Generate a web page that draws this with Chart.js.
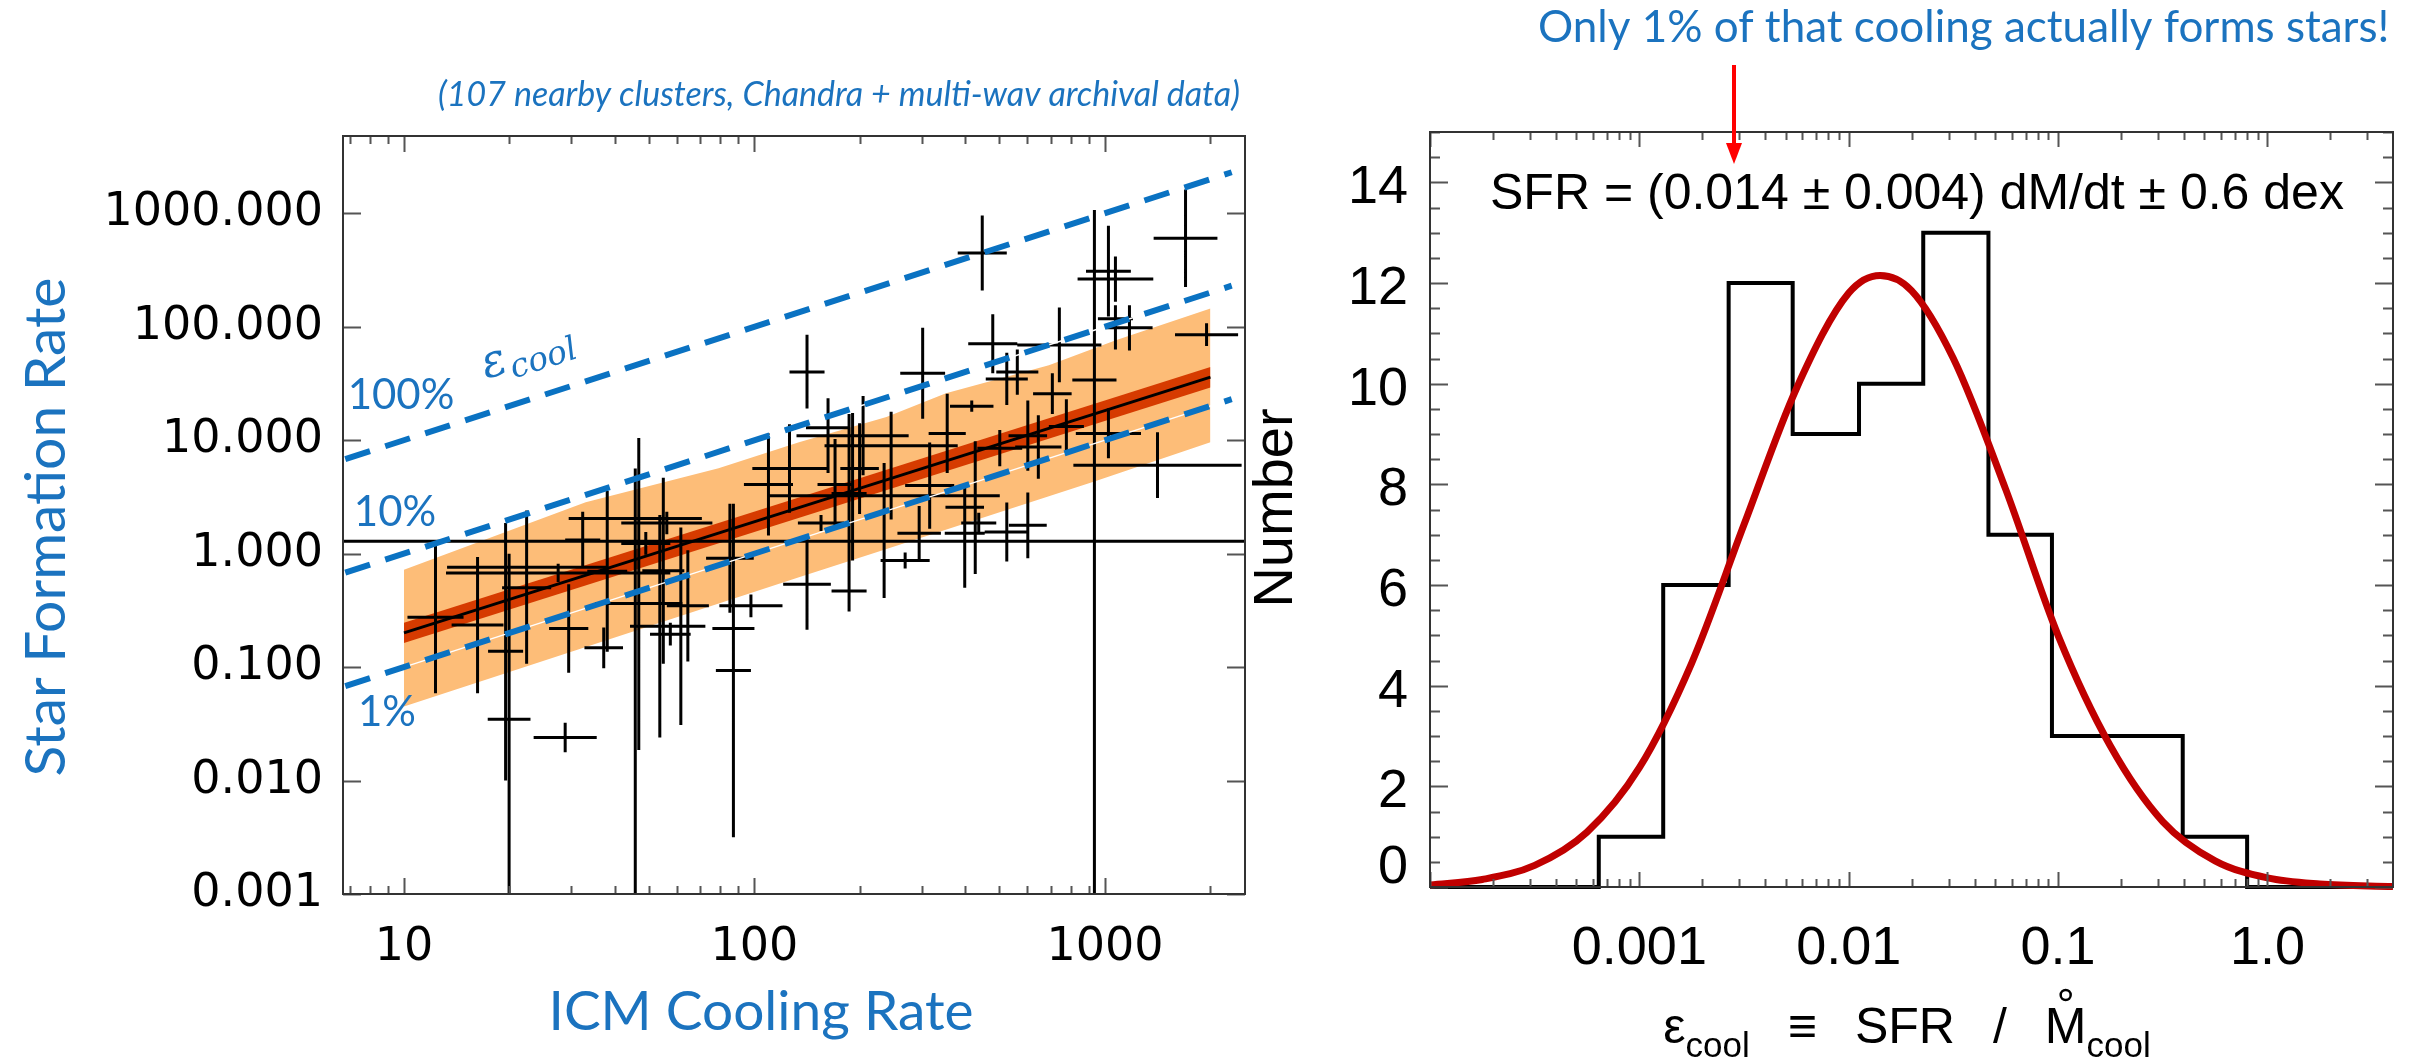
<!DOCTYPE html>
<html>
<head>
<meta charset="utf-8">
<title>ICM cooling vs star formation</title>
<script src="https://cdn.jsdelivr.net/npm/chart.js@4.4.1/dist/chart.umd.min.js"></script>
<style>
  html, body { margin: 0; padding: 0; background: #fff; }
  #page { position: relative; width: 2430px; height: 1060px; overflow: hidden; background: #fff; }
  canvas { position: absolute; top: 0; }
  #sfrChart { left: 0; }
  #histChart { left: 1250px; }
</style>
</head>
<body>
<div id="page">
  <canvas id="sfrChart" width="1250" height="1060"></canvas>
  <canvas id="histChart" width="1180" height="1060"></canvas>
</div>
<script>
// Left: star formation rate vs ICM cooling rate for nearby clusters.
// Right: histogram of eps_cool = SFR / Mdot_cool with its lognormal fit.
// Cluster values are log10 numbers, errors in dex.

const BLUE_TEXT = "#1b73bf"
const BLUE_LINE = "#0a72c2"
const ORANGE = "#fdbd78"
const RED_BAND = "#d63b00"
const FIT_RED = "#c00000"
const SANS = '"Liberation Sans", "DejaVu Sans", Arial, sans-serif'
const GILL = 'Lato, "Open Sans", sans-serif'

// ---- left panel: clusters ----
const logCool = [
  2.15, 2.48, 2.65, 2.68, 2.87, 2.72, 2.75, 2.85, 2.97, 2.97,
  3.01, 3.03, 3.23, 3.03, 3.07, 3.29, 3.15, 3.01, 2.89, 2.78,
  2.81, 2.70, 2.55, 2.62, 2.15, 2.27, 2.47, 2.37, 2.43, 2.60,
  2.63, 2.60, 2.64, 2.72, 2.78, 2.19, 2.27, 2.30, 2.23, 2.21,
  2.31, 2.28, 2.39, 2.50, 1.09, 1.21, 1.30, 1.29, 1.35, 1.35,
  1.44, 1.51, 1.58, 1.47, 1.57, 1.46, 1.66, 1.67, 1.69, 1.75,
  1.73, 1.74, 1.76, 1.79, 1.81, 1.93, 1.94, 1.99, 1.94, 2.04, 2.10
]
const logSfr = [
  1.60, 1.59, 2.65, 1.85, 1.84, 1.54, 1.60, 1.41, 1.53, 0.11,
  2.49, 2.42, 2.78, 2.07, 1.99, 1.93, 0.78, 1.06, 1.12, 1.04,
  0.94, 0.93, 1.06, 1.30, -0.27, -0.33, 0.18, 0.51, -0.06, 0.41,
  0.51, 0.18, 0.27, 0.19, 0.25, 0.27, 0.53, 0.75, 0.61, 1.11,
  1.04, 1.04, 0.95, 0.60, -0.56, -0.63, -1.46, -0.86, -0.30, -0.12,
  -0.17, 0.12, -0.155, -0.66, -0.83, -1.62, 0.31, -0.44, 0.09, 0.27,
  -0.64, -0.15, -0.71, -0.64, -0.46, -0.04, -1.03, -0.46, -0.66, 0.61, 0.75
]
const coolErrDex = [
  0.05, 0.064, 0.07, 0.07, 0.12, 0.06, 0.06, 0.055, 0.063, 3.0,
  0.064, 0.108, 0.091, 0.05, 0.066, 0.09, 0.24, 0.093, 0.05, 0.055,
  0.066, 0.064, 0.053, 0.062, 0.068, 0.05, 0.062, 0.33, 0.07, 0.055,
  0.06, 0.057, 0.05, 0.063, 0.054, 0.066, 0.05, 0.055, 0.05, 0.063,
  0.10, 0.16, 0.19, 0.07, 0.08, 0.074, 0.061, 0.05, 0.07, 0.227,
  0.32, 0.05, 0.057, 0.056, 0.055, 0.09, 0.19, 0.125, 0.07, 0.13,
  0.085, 0.06, 0.058, 0.07, 0.06, 0.068, 0.05, 0.09, 0.06, 0.07, 0.106
]
const sfrErrUpDex = [
  0.33, 0.40, 0.33, 0.26, 0.33, 0.23, 0.20, 0.18, 0.15, 2.92,
  0.40, 0.20, 0.43, 0.12, 0.20, 0.10, 0.29, 0.22, 0.24, 0.31,
  0.28, 0.16, 0.35, 0.05, 0.40, 0.18, 0.24, 0.29, 0.07, 0.21,
  0.48, 0.13, 0.09, 0.26, 0.29, 0.07, 0.70, 0.40, 0.40, 0.26,
  0.35, 0.20, 0.30, 0.38, 0.66, 0.60, 1.46, 1.13, 0.67, 0.50,
  0.08, 0.25, 0.71, 0.39, 0.18, 0.13, 0.44, 1.46, 0.10, 0.10,
  0.98, 0.82, 0.10, 0.87, 0.49, 0.48, 1.47, 0.10, 0.10, 0.45, 0.39
]
const sfrErrDownDex = [
  0.32, 0.40, 0.33, 0.26, 0.33, 0.23, 0.20, 0.18, 0.15, 4.0,
  0.40, 0.20, 0.43, 0.27, 0.20, 0.10, 0.29, 0.22, 0.24, 0.31,
  0.28, 0.16, 0.35, 0.05, 0.40, 0.18, 0.24, 0.90, 0.07, 0.71,
  0.69, 0.13, 0.09, 0.26, 0.29, 0.07, 0.70, 0.40, 0.40, 0.40,
  0.35, 1.10, 0.65, 0.38, 0.67, 0.60, 3.0, 1.14, 0.67, 0.85,
  0.08, 0.25, 0.71, 0.39, 0.18, 0.13, 3.5, 1.29, 0.10, 0.10,
  0.98, 0.82, 0.10, 0.87, 0.49, 0.48, 1.47, 0.10, 0.10, 0.45, 0.39
]

// orange scatter band (+-0.6 dex) and red band around the best fit
const bandTopCool = [10, 33, 79, 134, 238, 352, 692, 1074, 2000]
const bandTopSfr = [0.72, 2.84, 5.66, 9.6, 16.0, 25.9, 45.8, 76, 145]
const bandBottomCool = [10, 134, 223, 942, 2000]
const bandBottomSfr = [0.045, 0.62, 1.03, 4.36, 9.6]
const fitCool = [10, 2000]
const fitSfr = [0.2, 36]
const fitSfrHigh = [0.246, 44.2]
const fitSfrLow = [0.163, 29.2]

// constant cooling-efficiency lines: 100%, 10%, 1%
const effCool = [6.8, 2300]
const effSfr100 = [6.8, 2300]
const effSfr10 = [0.68, 230]
const effSfr1 = [0.068, 23]

const COOL_MIN = 6.7
const COOL_MAX = 2510
const SFR_MIN = 0.001
const SFR_MAX = 4800
const sfrTickValues = [0.001, 0.01, 0.1, 1, 10, 100, 1000]

// ---- right panel: eps_cool histogram ----
const binEdges = [0.00064, 0.0013, 0.00267, 0.0054, 0.0112, 0.0227, 0.0465, 0.0935, 0.191, 0.394, 0.80]
const binCounts = [1, 6, 12, 9, 10, 13, 7, 3, 3, 1]
const fitLogEps = [-4.0, -3.75, -3.5, -3.25, -3.0, -2.75, -2.5, -2.25, -2.0, -1.85,
  -1.7, -1.5, -1.25, -1.0, -0.75, -0.5, -0.25, 0.0, 0.25, 0.6]
const fitNumber = [0.04, 0.15, 0.43, 1.09, 2.37, 4.45, 7.2, 9.9, 11.8, 12.15,
  11.85, 10.5, 7.9, 5.0, 2.8, 1.3, 0.52, 0.18, 0.06, 0.01]
const EPS_MIN = 0.0001
const EPS_MAX = 3.98
const epsLabels = { "-3": "0.001", "-2": "0.01", "-1": "0.1", "0": "1.0" }
const numberTicks = []
for (let v = 0; v <= 15; v += 0.5) numberTicks.push(v)

const pts = (xs, ys) => xs.map((x, i) => ({ x, y: ys[i] }))
const isDecade = v => Math.abs(Math.log10(v) - Math.round(Math.log10(v))) < 1e-6

function logTicks(min, max) {
  const out = []
  for (let e = Math.floor(Math.log10(min)); e <= Math.ceil(Math.log10(max)); e++) {
    for (let m = 1; m <= 9; m++) {
      const v = m * Math.pow(10, e)
      if (v >= min * 0.999 && v <= max * 1.001) out.push({ value: v, major: m === 1 })
    }
  }
  return out
}

function crossSegments() {
  const out = []
  logCool.forEach((lx, i) => {
    const ly = logSfr[i]
    const x = 10 ** lx
    const y = 10 ** ly
    out.push({ x: 10 ** (lx - coolErrDex[i]), y }, { x: 10 ** (lx + coolErrDex[i]), y }, { x, y: null })
    out.push({ x, y: 10 ** (ly - sfrErrDownDex[i]) }, { x, y: 10 ** (ly + sfrErrUpDex[i]) }, { x, y: null })
  })
  return out
}

const line = (data, extra) => Object.assign({
  data, pointRadius: 0, borderWidth: 0, borderColor: "rgba(0,0,0,0)", fill: false, tension: 0
}, extra)

function drawFrameAndTicks(ctx, a, x, y, xLen, yLen, color) {
  ctx.strokeStyle = color
  ctx.lineWidth = 2
  ctx.beginPath()
  x.ticks.forEach(t => {
    const px = Math.round(x.getPixelForValue(t.value)) + 0.5
    const len = t.major ? xLen[0] : xLen[1]
    ctx.moveTo(px, a.bottom); ctx.lineTo(px, a.bottom - len)
    ctx.moveTo(px, a.top); ctx.lineTo(px, a.top + len)
  })
  y.ticks.forEach(t => {
    const py = Math.round(y.getPixelForValue(t.value)) + 0.5
    const len = t.major ? yLen[0] : yLen[1]
    ctx.moveTo(a.left, py); ctx.lineTo(a.left + len, py)
    ctx.moveTo(a.right, py); ctx.lineTo(a.right - len, py)
  })
  ctx.stroke()
  ctx.strokeStyle = "#333"
  ctx.strokeRect(a.left, a.top, a.right - a.left, a.bottom - a.top)
}

const sfrDecor = {
  id: "sfrDecor",
  afterDraw(chart) {
    const { ctx, chartArea: a, scales: { x, y } } = chart
    ctx.save()
    drawFrameAndTicks(ctx, a, x, y, [16, 8], [18, 18], "#555")

    ctx.fillStyle = BLUE_TEXT
    ctx.textAlign = "center"
    ctx.textBaseline = "middle"
    ctx.font = `italic 34px ${GILL}`
    ctx.fillText("(107 nearby clusters, Chandra + multi-wav archival data)", 839, 95)

    ctx.font = `55px ${GILL}`
    ctx.fillText("ICM Cooling Rate", 761, 1012)
    ctx.save()
    ctx.translate(47, 527)
    ctx.rotate(-Math.PI / 2)
    ctx.font = `57px ${GILL}`
    ctx.fillText("Star Formation Rate", 0, 0)
    ctx.restore()

    ctx.font = `42px ${GILL}`
    ctx.fillText("100%", 401, 395)
    ctx.fillText("10%", 395, 512)
    ctx.fillText("1%", 387, 712)

    // epsilon_cool label running along the 100% line
    ctx.save()
    ctx.translate(486, 379)
    ctx.rotate(-0.31)
    ctx.textAlign = "left"
    ctx.textBaseline = "alphabetic"
    ctx.font = 'italic 46px "DejaVu Serif", "Liberation Serif", serif'
    ctx.fillText("\u03b5", 0, 0)
    const w = ctx.measureText("\u03b5").width
    ctx.font = 'italic 33px "DejaVu Serif", "Liberation Serif", serif'
    ctx.fillText("cool", w + 2, 8)
    ctx.restore()
    ctx.restore()
  }
}

const histDecor = {
  id: "histDecor",
  afterDraw(chart) {
    const { ctx, chartArea: a, scales: { x, y } } = chart
    ctx.save()
    drawFrameAndTicks(ctx, a, x, y, [15, 8], [18, 10], "#555")

    ctx.fillStyle = "#000"
    ctx.textAlign = "left"
    ctx.textBaseline = "middle"
    ctx.font = `50px ${SANS}`
    ctx.fillText("SFR = (0.014 \u00b1 0.004) dM/dt \u00b1 0.6 dex", a.left + 60, a.top + 63)

    ctx.save()
    ctx.translate(27, 508)
    ctx.rotate(-Math.PI / 2)
    ctx.textAlign = "center"
    ctx.font = `56px ${SANS}`
    ctx.fillText("Number", 0, 0)
    ctx.restore()

    // x title: eps_cool = SFR / Mdot_cool
    const big = `50px ${SANS}`
    const sub = `35px ${SANS}`
    const parts = [["\u03b5", big, 0, 0], ["cool", sub, 14, 38], ["\u2261", big, 0, 38],
      ["SFR", big, 0, 38], ["/", big, 0, 38], ["M", big, 0, 0], ["cool", sub, 14, 0]]
    let total = 0
    parts.forEach(p => { ctx.font = p[1]; p.w = ctx.measureText(p[0]).width; total += p.w + p[3] })
    let cx = 657 - total / 2
    ctx.textBaseline = "alphabetic"
    parts.forEach(p => {
      ctx.font = p[1]
      ctx.fillText(p[0], cx, 1043 + p[2])
      if (p[0] === "M") {
        ctx.beginPath()
        ctx.lineWidth = 2.5
        ctx.strokeStyle = "#000"
        ctx.arc(cx + p.w / 2, 995, 5, 0, Math.PI * 2)
        ctx.stroke()
      }
      cx += p.w + p[3]
    })

    // call-out above the panel
    ctx.fillStyle = BLUE_TEXT
    ctx.textBaseline = "alphabetic"
    ctx.font = `44px ${GILL}`
    ctx.fillText("Only 1% of that cooling actually forms stars!", 288, 42)

    ctx.strokeStyle = "#ff0000"
    ctx.fillStyle = "#ff0000"
    ctx.lineWidth = 4
    ctx.beginPath()
    ctx.moveTo(484, 65); ctx.lineTo(484, 146)
    ctx.stroke()
    ctx.beginPath()
    ctx.moveTo(476, 143); ctx.lineTo(492, 143); ctx.lineTo(484, 164)
    ctx.closePath()
    ctx.fill()
    ctx.restore()
  }
}

const dash = { borderColor: BLUE_LINE, borderWidth: 6, borderDash: [26, 16], borderCapStyle: "butt", order: 0 }
const whiteGap = { borderColor: "#ffffff", borderWidth: 1.5, order: 1 }

new Chart(document.getElementById("sfrChart"), {
  type: "line",
  data: {
    datasets: [
      line(pts(effCool, effSfr100), dash),
      line(pts(effCool, effSfr10), dash),
      line(pts(effCool, effSfr1), dash),
      line(pts(effCool, effSfr10), whiteGap),
      line(pts(effCool, effSfr1), whiteGap),
      line(pts(fitCool, fitSfr), { borderColor: "#000", borderWidth: 3, order: 2 }),
      line(crossSegments(), { borderColor: "#000", borderWidth: 3, spanGaps: false, borderCapStyle: "butt", order: 3 }),
      line(pts(fitCool, fitSfrHigh), { backgroundColor: RED_BAND, fill: "+1", order: 4 }),
      line(pts(fitCool, fitSfrLow), { order: 4 }),
      line(pts(bandTopCool, bandTopSfr), { backgroundColor: ORANGE, fill: "+1", order: 5 }),
      line(pts(bandBottomCool, bandBottomSfr), { order: 5 })
    ]
  },
  options: {
    responsive: false,
    animation: false,
    events: [],
    layout: { padding: { top: 136, right: 5, left: 0, bottom: 0 } },
    plugins: { legend: { display: false }, tooltip: { enabled: false } },
    scales: {
      x: {
        type: "logarithmic",
        min: COOL_MIN,
        max: COOL_MAX,
        grid: { display: false, drawTicks: false },
        border: { display: false },
        afterBuildTicks: s => { s.ticks = logTicks(COOL_MIN, COOL_MAX) },
        afterFit: s => { s.height = 166 },
        ticks: {
          autoSkip: false,
          maxRotation: 0,
          padding: 26,
          color: "#000",
          font: { family: "DejaVu Sans", size: 46 },
          callback: v => (isDecade(v) ? String(Math.round(v)) : "")
        }
      },
      y: {
        type: "logarithmic",
        min: SFR_MIN,
        max: SFR_MAX,
        grid: { display: false, drawTicks: false },
        border: { display: false },
        afterBuildTicks: s => { s.ticks = sfrTickValues.map(v => ({ value: v, major: true })) },
        afterFit: s => { s.width = 343 },
        ticks: {
          autoSkip: false,
          padding: 20,
          color: "#000",
          font: { family: "DejaVu Sans", size: 46 },
          callback: v => Number(v).toFixed(3)
        }
      }
    }
  },
  plugins: [sfrDecor]
})

const histPoints = [{ x: EPS_MIN, y: 0 }]
binCounts.forEach((c, i) => histPoints.push({ x: binEdges[i], y: c }))
histPoints.push({ x: binEdges[binEdges.length - 1], y: 0 }, { x: EPS_MAX, y: 0 })

new Chart(document.getElementById("histChart"), {
  type: "line",
  data: {
    datasets: [
      line(pts(fitLogEps.map(l => 10 ** l), fitNumber), {
        borderColor: FIT_RED, borderWidth: 7, cubicInterpolationMode: "monotone", order: 0,
        clip: { left: 0, right: 0, top: 0, bottom: 5 }
      }),
      line(histPoints, {
        borderColor: "#000", borderWidth: 4, stepped: "before", order: 1,
        clip: { left: 0, right: 0, top: 0, bottom: 5 }
      })
    ]
  },
  options: {
    responsive: false,
    animation: false,
    events: [],
    layout: { padding: { top: 132, right: 37, left: 0, bottom: 0 } },
    plugins: { legend: { display: false }, tooltip: { enabled: false } },
    scales: {
      x: {
        type: "logarithmic",
        min: EPS_MIN,
        max: EPS_MAX,
        grid: { display: false, drawTicks: false },
        border: { display: false },
        afterBuildTicks: s => { s.ticks = logTicks(EPS_MIN, EPS_MAX) },
        afterFit: s => { s.height = 173 },
        ticks: {
          autoSkip: false,
          maxRotation: 0,
          padding: 30,
          color: "#000",
          font: { family: SANS, size: 54 },
          callback: v => (isDecade(v) ? (epsLabels[String(Math.round(Math.log10(v)))] || "") : "")
        }
      },
      y: {
        min: 0,
        max: 15,
        grid: { display: false, drawTicks: false },
        border: { display: false },
        afterBuildTicks: s => { s.ticks = numberTicks.map(v => ({ value: v, major: v % 2 === 0 })) },
        afterFit: s => { s.width = 180 },
        ticks: {
          autoSkip: false,
          padding: 22,
          labelOffset: 6,
          color: "#000",
          font: { family: SANS, size: 54 },
          callback: v => (v === 0.5 ? "0" : (v > 0 && v < 15 && v % 2 === 0 ? String(v) : ""))
        }
      }
    }
  },
  plugins: [histDecor]
})
</script>
</body>
</html>
